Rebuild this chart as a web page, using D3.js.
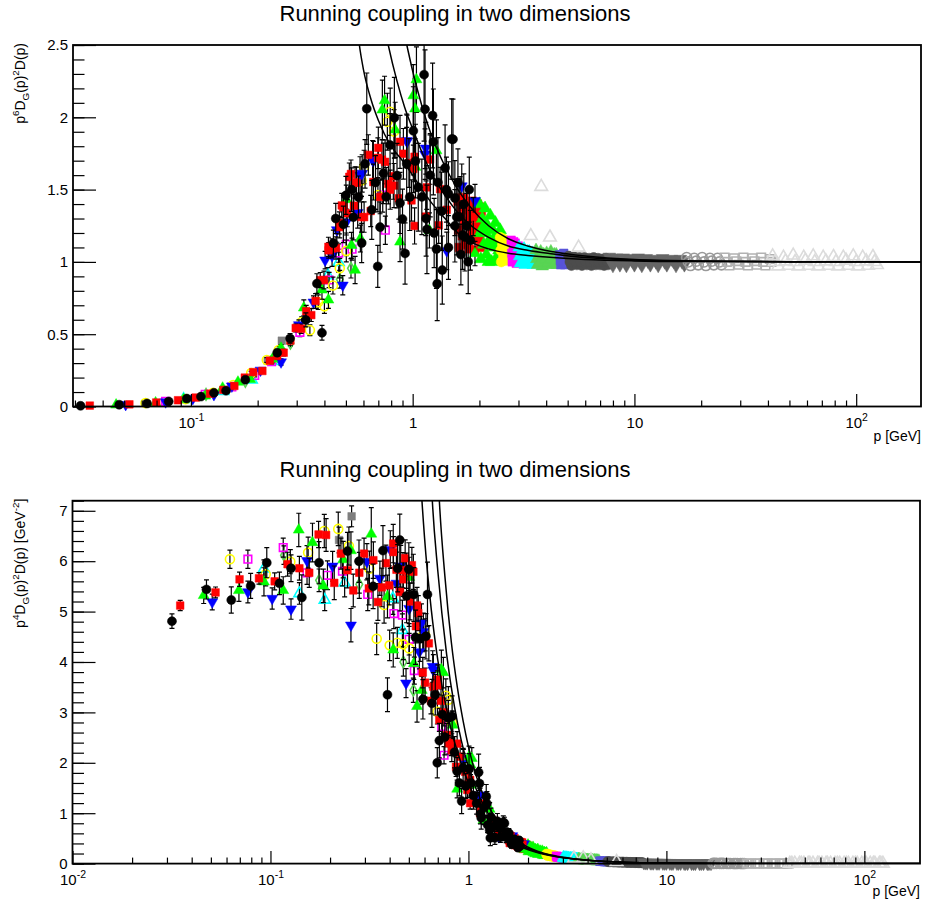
<!DOCTYPE html>
<html>
<head>
<meta charset="utf-8">
<script src="https://cdn.jsdelivr.net/npm/d3@7"></script>
<style>
body { margin: 0; background: #fff; }
text { font-family: "Liberation Sans", Arial, Helvetica, sans-serif; }
</style>
</head>
<body>
<svg id="chart" width="928" height="902"></svg>
<script>
// ---- data ----
// low momentum sets: p [GeV], p^4 D_G(p)^2 D(p) [GeV^-2] (lower panel), relative error
// the upper panel shows the same points times p^2
var blackP = [0.0318,0.0475,0.0634,0.0794,0.0958,0.111,0.127,0.144,0.176,0.245,0.28,0.33,0.37,0.39,0.439,0.45,0.487,0.50,0.53,0.54,0.57,0.589,0.61,0.621,0.654,0.68,0.696,0.713,0.738,0.76,0.791,0.827,0.85,0.877,0.90,0.924,0.94,0.97,1.007,1.03,1.06,1.10,1.126,1.137,1.15,1.16,1.20,1.23,1.24,1.25,1.28,1.29,1.30,1.35,1.36,1.40,1.42,1.45,1.45,1.5,1.52,1.55,1.55,1.58,1.60,1.62,1.65,1.68,1.70,1.72,1.75,1.78,1.80,1.82];
var blackY = [4.81,5.44,5.23,5.51,5.97,5.56,5.86,5.28,5.97,6.2,6.0,5.5,6.21,3.35,5.86,6.42,5.31,5.84,5.34,4.49,4.46,3.26,4.51,5.34,3.18,3.35,2.0,2.44,2.96,2.51,2.89,2.92,2.21,1.83,1.60,1.24,1.90,1.54,1.88,1.60,1.35,1.198,1.81,1.59,0.983,0.91,1.111,1.33,1.19,0.768,0.665,0.51,0.917,0.741,0.51,0.842,0.744,0.70,0.523,0.822,0.80,0.60,0.520,0.525,0.605,0.50,0.386,0.42,0.484,0.396,0.408,0.316,0.463,0.347];
var blackErr = [0.03,0.035,0.05,0.045,0.05,0.04,0.045,0.085,0.07,0.06,0.07,0.08,0.08,0.1,0.08,0.08,0.1,0.09,0.1,0.12,0.1,0.12,0.1,0.12,0.15,0.12,0.15,0.14,0.13,0.14,0.12,0.14,0.14,0.15,0.16,0.2,0.15,0.16,0.16,0.15,0.2,0.18,0.2,0.2,0.2,0.25,0.18,0.18,0.2,0.2,0.25,0.3,0.2,0.2,0.25,0.18,0.15,0.15,0.2,0.15,0.15,0.18,0.2,0.2,0.15,0.2,0.2,0.2,0.15,0.2,0.18,0.22,0.15,0.18];

var redP = [0.035,0.0528,0.0698,0.0875,0.105,0.122,0.140,0.157,0.175,0.191,0.210,0.227,0.245,0.262,0.281,0.297,0.314,0.331,0.349,0.365,0.383,0.398,0.417,0.418,0.433,0.451,0.467,0.469,0.479,0.487,0.507,0.518,0.527,0.543,0.55,0.558,0.588,0.604,0.631,0.647,0.665,0.697,0.70,0.713,0.727,0.751,0.777,0.792,0.818,0.824,0.866,0.877,0.908,0.962,0.988,1.007,1.02,1.02,1.146,1.158,1.198,1.31,1.33,1.425,1.636,1.876];
var redY = [5.12,5.38,5.64,5.66,5.60,5.94,5.86,5.77,6.53,6.52,5.57,6.15,5.82,5.42,5.77,6.15,5.46,6.02,5.19,5.48,5.96,5.52,6.35,6.18,5.83,5.39,5.82,5.64,6.06,5.81,5.2,5.92,5.79,4.71,5.12,4.97,3.79,3.59,4.37,3.23,3.51,3.54,3.65,2.85,3.23,3.0,2.55,2.39,2.38,2.25,1.92,2.38,2.12,1.82,1.46,1.62,1.66,1.20,1.0,1.13,1.19,0.73,0.85,0.67,0.54,0.373];
var redErr = [0.02,0.02,0.025,0.02,0.03,0.04,0.04,0.05,0.04,0.05,0.06,0.05,0.06,0.06,0.07,0.05,0.06,0.06,0.07,0.07,0.06,0.07,0.06,0.05,0.06,0.07,0.06,0.06,0.06,0.06,0.07,0.06,0.06,0.07,0.07,0.07,0.08,0.08,0.08,0.08,0.08,0.08,0.08,0.08,0.08,0.09,0.09,0.09,0.1,0.1,0.1,0.1,0.1,0.1,0.1,0.1,0.1,0.1,0.1,0.1,0.1,0.1,0.1,0.1,0.1,0.1];

var greenP = [0.046,0.0693,0.0927,0.116,0.139,0.163,0.185,0.233,0.255,0.323,0.390,0.417,0.502,0.53,0.55,0.581,0.73,0.747,0.834,0.877,1.007,1.025,1.03,1.04,1.19,1.28,1.91];
var greenY = [5.32,5.42,5.59,5.42,6.62,6.37,5.51,6.03,6.21,6.54,5.30,4.24,5.68,3.97,3.12,3.44,3.85,3.79,2.75,1.48,2.12,1.96,1.56,2.09,0.86,1.08,0.29];
var greenErr = [0.03,0.04,0.05,0.05,0.05,0.06,0.06,0.06,0.06,0.08,0.08,0.08,0.07,0.08,0.1,0.08,0.1,0.08,0.1,0.12,0.1,0.1,0.1,0.1,0.1,0.12,0.08];

var blueP = [0.0508,0.0769,0.102,0.127,0.153,0.206,0.255,0.307,0.357,0.403,0.433,0.455,0.484,0.502,0.565,0.579,0.592,0.66,0.665,0.94,0.943,1.137,1.146,1.425,1.665,1.91];
var blueY = [5.19,5.39,5.26,5.05,6.01,5.90,4.73,5.99,5.66,6.23,5.56,5.9,3.58,5.06,4.2,4.77,4.6,3.91,3.84,2.08,2.06,1.35,1.36,0.53,0.55,0.39];
var blueErr = [0.03,0.04,0.04,0.04,0.05,0.05,0.07,0.06,0.06,0.06,0.07,0.07,0.08,0.07,0.08,0.08,0.08,0.08,0.08,0.1,0.1,0.1,0.1,0.12,0.1,0.08];

var yellowP = [0.0624,0.0946,0.126,0.155,0.187,0.22,0.249,0.316,0.344,0.375,0.40,0.437,0.469,0.502,0.588,0.604,0.697,0.769,0.792,0.824];
var yellowY = [6.04,5.74,5.99,6.17,6.60,6.64,6.30,5.85,4.46,5.13,4.33,4.38,4.35,4.27,4.52,4.54,3.01,3.33,3.25,2.80];
var yellowErr = [0.03,0.04,0.04,0.05,0.05,0.05,0.06,0.06,0.07,0.07,0.07,0.07,0.07,0.07,0.07,0.07,0.08,0.1,0.08,0.08];

var magentaP = [0.0769,0.116,0.153,0.194,0.231,0.31,0.42,0.464,0.502,0.533,0.733,0.753];
var magentaY = [6.04,6.27,5.77,5.72,5.80,5.34,4.96,4.93,4.45,3.83,2.72,2.15];
var magentaErr = [0.03,0.03,0.04,0.05,0.05,0.06,0.06,0.06,0.07,0.07,0.08,0.08];

var cyanP = [0.0927,0.14,0.188,0.237,0.415,0.464];
var cyanY = [5.85,5.36,5.23,5.57,5.26,4.63];
var cyanErr = [0.03,0.04,0.04,0.05,0.06,0.07];

var diamondP = [0.117,0.176,0.281,0.469,0.527];
var diamondY = [6.12,5.62,5.54,4.0,3.44];
var diamondErr = [0.03,0.04,0.05,0.07,0.07];

var greyP = [0.222,0.257];
var greyY = [6.42,6.89];
var greyErr = [0.04,0.03];

// high momentum sets: p [GeV], p^6 D_G(p)^2 D(p) (upper panel); lower panel = value / p^2
var bandRedP = [1.60,1.625,1.65,1.675,1.70,1.725,1.75,1.775,1.80,1.825,1.85,1.875,1.90,1.925,1.95,1.975,2.00,2.025,2.05,1.61,1.66,1.71,1.76,1.81,1.86,1.91,1.96,2.01,2.04];
var bandRedY = [1.42,1.10,1.32,1.18,1.44,1.12,1.26,1.36,1.09,1.40,1.20,1.30,1.08,1.34,1.16,1.24,1.38,1.10,1.28,1.22,1.38,1.28,1.15,1.32,1.42,1.24,1.40,1.17,1.35];
var bandGreenP = [2.00,2.03,2.06,2.09,2.12,2.15,2.18,2.21,2.24,2.27,2.30,2.33,2.36,2.39,2.42,2.45,2.48,2.015,2.075,2.135,2.195,2.255,2.315,2.375,2.435];
var bandGreenY = [1.40,1.02,1.30,1.12,1.37,1.05,1.25,1.15,1.32,1.00,1.22,1.10,1.27,1.03,1.18,1.08,1.22,1.20,1.24,1.20,1.00,1.12,1.16,1.14,1.02];
var bandYellowP = [2.48,2.51,2.54,2.57,2.60,2.63,2.66,2.69,2.72,2.75,2.78,2.495,2.555,2.615,2.675,2.735];
var bandYellowY = [1.17,1.00,1.12,1.04,1.15,1.01,1.09,1.13,1.02,1.10,1.05,1.08,1.16,1.07,1.02,1.14];
var bandMagentaP = [2.78,2.81,2.84,2.87,2.90,2.93,2.96,2.99,3.02,3.05,2.795,2.855,2.915,2.975,3.035];
var bandMagentaY = [1.15,1.00,1.10,1.03,1.13,0.99,1.07,1.11,1.01,1.08,1.06,1.14,1.05,1.02,1.10];
var bandCyanP = [3.02,3.06,3.10,3.14,3.18,3.22,3.26,3.30,3.34,3.38,3.42,3.46,3.50,3.54,3.58,3.04,3.12,3.20,3.28,3.36,3.44,3.52];
var bandCyanY = [1.10,0.99,1.06,1.01,1.09,0.98,1.04,1.07,0.99,1.05,1.02,1.06,0.98,1.03,1.01,1.04,1.08,1.02,1.00,1.07,0.99,1.05];
var bandGreen8P = [3.60,3.66,3.72,3.78,3.84,3.90,3.96,4.02,4.08,4.14,4.20,4.26,4.32,4.38,4.44,4.50,4.56,3.63,3.75,3.87,3.99,4.11,4.23,4.35,4.47];
var bandGreen8Y = [1.08,0.98,1.04,1.07,0.97,1.05,1.00,1.06,0.98,1.04,1.07,0.98,1.03,1.00,1.05,0.98,1.03,1.02,1.00,1.03,1.02,1.00,1.02,1.05,1.01];
var bandBlue9P = [4.60,4.65,4.70,4.75,4.80,4.85,4.90,4.95,5.00,5.05,4.63,4.73,4.83,4.93,5.03];
var bandBlue9Y = [1.05,0.98,1.03,1.00,1.06,0.98,1.02,1.04,0.99,1.02,1.01,1.05,1.01,0.99,1.04];
var bandGrey1P = [5.05,5.2,5.35,5.5,5.65,5.8,5.95,6.1,6.25,6.4,6.55,6.7,6.85,7.0,7.15,7.3,7.45,7.6,5.12,5.42,5.72,6.02,6.32,6.62,6.92,7.22,7.52];
var bandGrey1Y = [1.04,0.975,1.035,0.98,1.03,0.975,1.03,0.98,1.025,0.975,1.03,0.98,1.025,0.98,1.02,0.975,1.025,0.98,1.0,1.005,1.0,1.005,1.0,1.005,1.0,1.0,1.005];
var bandGrey2P = [7.7,8.0,8.3,8.6,8.9,9.2,9.6,10.0,10.4,10.8,11.3,11.8,12.3,12.8,13.4,14.0,14.7,15.4,16.1,16.8,7.85,8.45,9.05,9.8,10.6,11.5,12.5,13.7,15.0,16.4];
var bandGrey2Y = [1.035,0.975,1.03,0.98,1.03,0.975,1.025,0.98,1.03,0.975,1.025,0.98,1.02,0.975,1.025,0.98,1.02,0.975,1.02,0.98,1.0,1.005,1.0,1.005,1.0,1.005,1.0,1.0,1.005,1.0];
var bandGrey3P = [17.2,17.9,18.6,19.4,20.2,21.0,21.9,22.8,23.7,24.7,17.5,19.0,20.6,22.3,24.2];
var bandGrey3Y = [1.03,0.975,1.025,0.98,1.03,0.975,1.025,0.98,1.025,0.98,1.0,1.005,1.0,1.005,1.0];
var bandGrey4P = [25.5,26.8,28.1,29.5,31,32.5,34,35.6,37.3,39,40.8,26.1,28.8,31.7,34.8,38.1,41.5];
var bandGrey4Y = [1.03,0.975,1.025,0.98,1.03,0.975,1.025,0.98,1.03,0.975,1.02,1.0,1.005,1.0,1.005,1.0,1.0];
var bandGrey5P = [3.41,3.8,4.16,5.6,42,44.5,47,49.5,52,55,58,61,64,67.5,71,75,79,83,87.5,92,97,102,107,113,119,124,43,48,53,59,65,73,81,90,100,111,121];
var bandGrey5Y = [1.18,1.52,1.17,1.10,1.04,0.97,1.03,0.975,1.045,0.97,1.03,0.975,1.04,0.97,1.03,0.975,1.035,0.97,1.03,0.975,1.04,0.97,1.03,0.975,1.035,0.98,1.0,1.005,1.0,1.01,1.0,1.005,1.0,1.01,1.0,1.005,1.0];

// fit curves, p^6 D_G(p)^2 D(p)
var fitAP = [0.56,0.575,0.6,0.65,0.7,0.8,0.9,1.0,1.1,1.2,1.4,1.6,1.82,2.2,2.7,3.3,4.3,6,10,20,50,200];
var fitAY = [2.65,2.5,2.33,2.12,1.98,1.80,1.70,1.60,1.50,1.42,1.30,1.20,1.14,1.09,1.06,1.045,1.03,1.017,1.007,1.002,1.0,1.0];
var fitBP = [0.63,0.657,0.7,0.776,0.85,0.92,1.0,1.1,1.2,1.4,1.6,1.82,2.2,2.7,3.3,4.3,6,10,20,50,200];
var fitBY = [3.5,3.11,2.85,2.5,2.25,2.07,1.92,1.76,1.63,1.46,1.34,1.255,1.17,1.11,1.08,1.055,1.03,1.013,1.005,1.001,1.0];
var fitCP = [0.69,0.713,0.76,0.82,0.88,0.941,1.0,1.1,1.2,1.4,1.6,1.82,2.2,2.7,3.3,4.3,6,10,20,50,200];
var fitCY = [4.0,3.66,3.3,2.95,2.7,2.5,2.32,2.08,1.9,1.66,1.5,1.38,1.25,1.16,1.11,1.07,1.04,1.016,1.006,1.001,1.0];

// tick labels
var topYTicks = [0, 0.5, 1, 1.5, 2, 2.5];
var botYTicks = [0, 1, 2, 3, 4, 5, 6, 7];
var topXTicks = [0.1, 1, 10, 100];
var botXTicks = [0.01, 0.1, 1, 10, 100];

var chartTitle = "Running coupling in two dimensions";

// ---- styles ----
var bands = [
  {p: bandRedP, y6: bandRedY, shape: "square", color: "#ff0000", fill: true},
  {p: bandGreenP, y6: bandGreenY, shape: "triUp", color: "#00ff00", fill: true},
  {p: bandYellowP, y6: bandYellowY, shape: "circle", color: "#ffff00", fill: true},
  {p: bandMagentaP, y6: bandMagentaY, shape: "square", color: "#ff00ff", fill: true},
  {p: bandCyanP, y6: bandCyanY, shape: "triUp", color: "#00ffff", fill: true},
  {p: bandGreen8P, y6: bandGreen8Y, shape: "triUp", color: "#59d454", fill: true},
  {p: bandBlue9P, y6: bandBlue9Y, shape: "square", color: "#5954d8", fill: true},
  {p: bandGrey1P, y6: bandGrey1Y, shape: "circle", color: "#4c4c4c", fill: true},
  {p: bandGrey2P, y6: bandGrey2Y, shape: "triDown", color: "#666666", fill: true},
  {p: bandGrey3P, y6: bandGrey3Y, shape: "circle", color: "#999999", fill: false},
  {p: bandGrey4P, y6: bandGrey4Y, shape: "square", color: "#b2b2b2", fill: false},
  {p: bandGrey5P, y6: bandGrey5Y, shape: "triUp", color: "#dcdcdc", fill: false}
];
var lowSets = [
  {p: greyP, y4: greyY, err: greyErr, shape: "square", color: "#7f7f7f", fill: true},
  {p: diamondP, y4: diamondY, err: diamondErr, shape: "diamond", color: "#59d454", fill: false},
  {p: cyanP, y4: cyanY, err: cyanErr, shape: "triUp", color: "#00ffff", fill: false},
  {p: magentaP, y4: magentaY, err: magentaErr, shape: "square", color: "#ff00ff", fill: false},
  {p: yellowP, y4: yellowY, err: yellowErr, shape: "circle", color: "#ffff00", fill: false},
  {p: blueP, y4: blueY, err: blueErr, shape: "triDown", color: "#0000ff", fill: true},
  {p: greenP, y4: greenY, err: greenErr, shape: "triUp", color: "#00ff00", fill: true},
  {p: redP, y4: redY, err: redErr, shape: "square", color: "#ff0000", fill: true},
  {p: blackP, y4: blackY, err: blackErr, shape: "circle", color: "#000000", fill: true}
];
var fits = [[fitAP, fitAY], [fitBP, fitBY], [fitCP, fitCY]];

var panels = [
  {x0: 73, x1: 921, y0: 45, y1: 406.5, pMin: 0.0294, pMax: 196, yMax: 2.5, yMinor: 0.1,
   yTicks: topYTicks, xTicks: topXTicks, pow: 6, titleY: 21, xTitleY: 441,
   yTitle: [["p",0],["6",1],["D",0],["G",-1],["(p)",0],["2",1],["D(p)",0]]},
  {x0: 72.5, x1: 920, y0: 500.7, y1: 863.6, pMin: 0.01, pMax: 191, yMax: 7.2, yMinor: 0.2,
   yTicks: botYTicks, xTicks: botXTicks, pow: 4, titleY: 477, xTitleY: 896,
   yTitle: [["p",0],["4",1],["D",0],["G",-1],["(p)",0],["2",1],["D(p) [GeV",0],["-2",1],["]",0]]}
];

var svg = d3.select("#chart");
svg.append("rect").attr("width", 928).attr("height", 902).attr("fill", "#fff");

var symbolFor = {
  circle:  d3.symbol().type(d3.symbolCircle).size(64),
  square:  d3.symbol().type(d3.symbolSquare).size(58),
  triUp:   d3.symbol().type(d3.symbolTriangle).size(52),
  triDown: d3.symbol().type(d3.symbolTriangle).size(52),
  diamond: d3.symbol().type(d3.symbolDiamond).size(38)
};
var bandSymbol = {
  circle:  d3.symbol().type(d3.symbolCircle).size(80),
  square:  d3.symbol().type(d3.symbolSquare).size(72),
  triUp:   d3.symbol().type(d3.symbolTriangle).size(70),
  triDown: d3.symbol().type(d3.symbolTriangle).size(70),
  diamond: d3.symbol().type(d3.symbolDiamond).size(50)
};

function supText(sel, parts, base) {
  // parts: [text, 0 normal | 1 superscript | -1 subscript]
  var shift = 0;
  parts.forEach(function(pt) {
    var want = pt[1] == 1 ? -0.42 * base : (pt[1] == -1 ? 0.25 * base : 0);
    sel.append("tspan")
      .attr("dy", want - shift)
      .attr("font-size", pt[1] == 0 ? base : base * 0.7)
      .text(pt[0]);
    shift = want;
  });
}

panels.forEach(function(pn, idx) {
  var x = d3.scaleLog().domain([pn.pMin, pn.pMax]).range([pn.x0, pn.x1]);
  var y = d3.scaleLinear().domain([0, pn.yMax]).range([pn.y1, pn.y0]);
  var g = svg.append("g");

  var clipId = "clip" + idx;
  svg.append("clipPath").attr("id", clipId).append("rect")
    .attr("x", pn.x0).attr("y", pn.y0).attr("width", pn.x1 - pn.x0).attr("height", pn.y1 - pn.y0);

  // value on this panel
  function val(p, y4, y6) {
    if (y4 != null) return pn.pow == 4 ? y4 : y4 * p * p;
    return pn.pow == 6 ? y6 : y6 / (p * p);
  }
  function inside(p, v) { return p >= pn.pMin && p <= pn.pMax && v >= 0 && v <= pn.yMax; }

  function drawMarkers(layer, pts, s, sym) {
    layer.selectAll(null).data(pts).enter().append("path")
      .attr("d", sym[s.shape])
      .attr("transform", function(d) {
        return "translate(" + x(d.p) + "," + y(d.v) + ")" + (s.shape == "triDown" ? " rotate(180)" : "");
      })
      .attr("fill", s.fill ? s.color : "none")
      .attr("stroke", s.color)
      .attr("stroke-width", s.fill ? 0.5 : 1.6);
  }

  // bands of high momentum data
  bands.forEach(function(s) {
    var pts = s.p.map(function(p, i) { return {p: p, v: val(p, null, s.y6[i])}; })
      .filter(function(d) { return inside(d.p, d.v); });
    drawMarkers(g.append("g"), pts, s, bandSymbol);
  });

  // low momentum data with error bars
  lowSets.forEach(function(s) {
    var pts = s.p.map(function(p, i) {
      var v = val(p, s.y4[i], null);
      return {p: p, v: v, e: v * (s.err[i] || 0)};
    });
    var eg = g.append("g").attr("clip-path", "url(#" + clipId + ")")
      .attr("stroke", "#000").attr("stroke-width", 1.2);
    eg.selectAll(null).data(pts).enter().append("path")
      .attr("d", function(d) {
        var xx = x(d.p), ya = y(d.v - d.e), yb = y(d.v + d.e);
        return "M" + xx + "," + ya + "V" + yb + "M" + (xx - 2.5) + "," + ya + "H" + (xx + 2.5) +
               "M" + (xx - 2.5) + "," + yb + "H" + (xx + 2.5);
      });
    drawMarkers(g.append("g"), pts.filter(function(d) { return inside(d.p, d.v); }), s, symbolFor);
  });

  // fit curves
  var line = d3.line().curve(d3.curveMonotoneX)
    .x(function(d) { return x(d[0]); }).y(function(d) { return y(d[1]); });
  fits.forEach(function(f) {
    var pts = f[0].map(function(p, i) { return [p, val(p, null, f[1][i])]; });
    g.append("path").attr("clip-path", "url(#" + clipId + ")")
      .attr("d", line(pts)).attr("fill", "none").attr("stroke", "#000").attr("stroke-width", 1.5);
  });

  // axes
  var yMinorVals = d3.range(0, Math.round(pn.yMax / pn.yMinor) + 1).map(function(i) { return i * pn.yMinor; });
  g.append("g").attr("transform", "translate(" + pn.x0 + ",0)")
    .call(d3.axisLeft(y).tickValues(yMinorVals).tickSize(-11.5).tickFormat(""))
    .call(function(a) { a.select(".domain").remove(); });
  g.append("g").attr("transform", "translate(" + pn.x0 + ",0)")
    .call(d3.axisLeft(y).tickValues(pn.yTicks).tickSize(-23).tickPadding(5).tickFormat(d3.format("~g")))
    .call(function(a) {
      a.select(".domain").remove();
      a.selectAll("text").attr("font-size", 15).attr("fill", "#000")
        .attr("font-family", "Liberation Sans, Arial, sans-serif");
    });

  var xMinor = [];
  for (var k = -3; k <= 3; k++) for (var m = 2; m <= 9; m++) {
    var v = m * Math.pow(10, k);
    if (v > pn.pMin && v < pn.pMax) xMinor.push(v);
  }
  g.append("g").attr("transform", "translate(0," + pn.y1 + ")")
    .call(d3.axisBottom(x).tickValues(xMinor).tickSize(-6).tickFormat(""))
    .call(function(a) { a.select(".domain").remove(); });
  g.append("g").attr("transform", "translate(0," + pn.y1 + ")")
    .call(d3.axisBottom(x).tickValues(pn.xTicks).tickSize(-12.5).tickFormat(""))
    .call(function(a) {
      a.select(".domain").remove();
      a.selectAll(".tick").append("text").attr("fill", "#000").attr("y", 21).attr("x", 0)
        .attr("text-anchor", "middle").attr("font-size", 15)
        .attr("font-family", "Liberation Sans, Arial, sans-serif")
        .each(function(d) {
          var e = Math.round(Math.log10(d));
          var t = d3.select(this);
          if (e == 0) t.text("1");
          else if (e == 1) t.text("10");
          else supText(t, [["10", 0], [String(e), 1]], 15);
        });
    });
  g.selectAll(".tick line").attr("stroke", "#000").attr("stroke-width", 1.2);

  // frame
  g.append("rect").attr("x", pn.x0).attr("y", pn.y0)
    .attr("width", pn.x1 - pn.x0).attr("height", pn.y1 - pn.y0)
    .attr("fill", "none").attr("stroke", "#000").attr("stroke-width", 1.8);

  // titles
  g.append("text").attr("x", 455).attr("y", pn.titleY).attr("text-anchor", "middle")
    .attr("font-size", 22).text(chartTitle);
  g.append("text").attr("x", pn.x1).attr("y", pn.xTitleY).attr("text-anchor", "end")
    .attr("font-size", 14).text("p [GeV]");
  var yt = g.append("text").attr("transform", "translate(25," + (pn.y0 - 2) + ") rotate(-90)")
    .attr("text-anchor", "end").attr("font-size", 14);
  supText(yt, pn.yTitle, 14);
});
</script>
</body>
</html>
